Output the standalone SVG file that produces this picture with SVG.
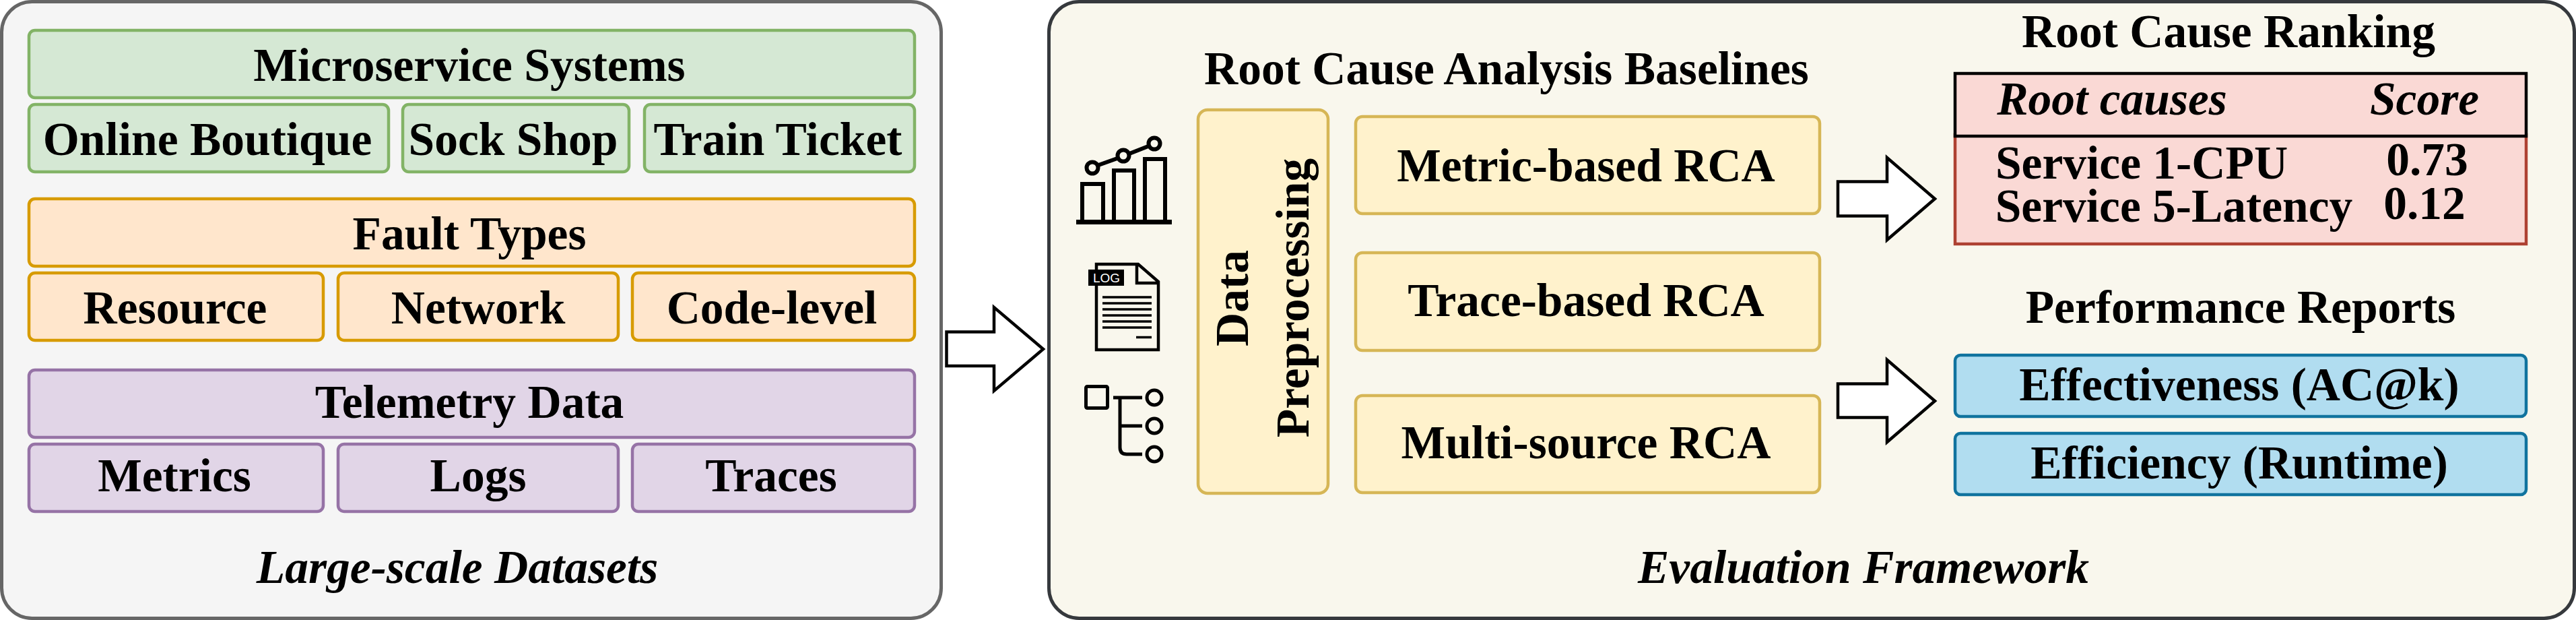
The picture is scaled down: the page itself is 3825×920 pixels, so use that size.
<svg xmlns="http://www.w3.org/2000/svg" width="3825" height="920" viewBox="0 0 3825 920">
<style>
text{font-family:"Liberation Serif","Times New Roman",serif;font-weight:700;font-size:69.5px;fill:#000;text-anchor:middle}
.i{font-style:italic}
rect{stroke-width:4.5}
.g rect{fill:#d5e8d4;stroke:#82b366}
.o rect{fill:#ffe6cc;stroke:#d79b00}
.p rect{fill:#e1d5e7;stroke:#9673a6}
.y rect{fill:#fff2cc;stroke:#d6b656}
.b rect{fill:#b1ddf0;stroke:#10739e}
.arrow{fill:#fff;stroke:#000;stroke-width:4.5;stroke-miterlimit:10}
.ic{fill:none;stroke:#000}
</style>
<rect width="3825" height="920" fill="#fff" style="stroke:none"/>
<g id="panel-datasets"><rect x="2.5" y="2.5" width="1395" height="915" rx="45" fill="#f5f5f5" stroke="#666666" style="stroke-width:5"/><text class="i" x="679" y="865">Large-scale Datasets</text></g>
<g id="panel-framework"><rect x="1557.5" y="2.5" width="2265" height="915" rx="45" fill="#f9f7ed" stroke="#36393d" style="stroke-width:5"/><text class="i" x="2767" y="865">Evaluation Framework</text></g>

<g id="microservice-systems" class="g"><rect x="43" y="45" width="1315" height="100" rx="9"/><text x="697" y="120">Microservice Systems</text></g>
<g id="online-boutique" class="g"><rect x="43" y="155" width="534" height="100" rx="9"/><text x="308" y="230">Online Boutique</text></g>
<g id="sock-shop" class="g"><rect x="598" y="155" width="336" height="100" rx="9"/><text x="762" y="230">Sock Shop</text></g>
<g id="train-ticket" class="g"><rect x="957" y="155" width="401" height="100" rx="9"/><text x="1155" y="230">Train Ticket</text></g>

<g id="fault-types" class="o"><rect x="43" y="295" width="1315" height="100" rx="9"/><text x="697" y="370">Fault Types</text></g>
<g id="resource" class="o"><rect x="43" y="405" width="437" height="100" rx="9"/><text x="260" y="480">Resource</text></g>
<g id="network" class="o"><rect x="502" y="405" width="416" height="100" rx="9"/><text x="710" y="480">Network</text></g>
<g id="code-level" class="o"><rect x="939" y="405" width="419" height="100" rx="9"/><text x="1146" y="480">Code-level</text></g>

<g id="telemetry-data" class="p"><rect x="43" y="549" width="1315" height="100" rx="9"/><text x="697" y="620">Telemetry Data</text></g>
<g id="metrics" class="p"><rect x="43" y="659" width="437" height="100" rx="9"/><text x="259" y="729">Metrics</text></g>
<g id="logs" class="p"><rect x="502" y="659" width="416" height="100" rx="9"/><text x="710" y="729">Logs</text></g>
<g id="traces" class="p"><rect x="939" y="659" width="419" height="100" rx="9"/><text x="1145" y="729">Traces</text></g>

<g id="icon-metrics" class="ic" stroke-width="6">
<path d="M1598 329.5H1740" stroke-width="7"/>
<path d="M1607 327V273H1638V327M1654 327V253H1684V327M1700 327V236H1730V327"/>
<path d="M1631 245L1659 235M1677 228L1705 217"/>
<circle cx="1622" cy="249" r="8.5"/><circle cx="1668" cy="231" r="8.5"/><circle cx="1714" cy="213" r="8.5"/>
</g>
<g id="icon-logs">
<path class="ic" stroke-width="4.5" d="M1628 400V392H1690L1720 418V519H1628V424M1688 392V420H1720"/>
<rect x="1616" y="400" width="53" height="24" fill="#000" style="stroke:none"/>
<text x="1643" y="419" style="font-family:'Liberation Sans',Arial,sans-serif;font-weight:400;font-size:19px;fill:#fff">LOG</text>
<path class="ic" stroke-width="3.5" d="M1637 441H1710M1637 450H1710M1637 459H1710M1637 468H1710M1637 477H1710M1637 486H1710M1687 500.5H1710"/>
</g>
<g id="icon-traces" class="ic" stroke-width="5">
<rect x="1612.5" y="573.5" width="32" height="32" rx="2" fill="none" stroke="#000" style="stroke-width:5"/>
<path d="M1653 590H1696M1663 590V664Q1663 674 1673 674H1696M1663 632H1696"/>
<circle cx="1714" cy="590" r="11"/><circle cx="1714" cy="632" r="11"/><circle cx="1714" cy="674" r="11"/>
</g>

<g id="data-preprocessing" class="y"><rect x="1779" y="163" width="193" height="569" rx="14"/>
<text transform="translate(1853 442.5) rotate(-90)">Data</text>
<text transform="translate(1943 442) rotate(-90)">Preprocessing</text></g>

<text id="baselines-title" x="2237" y="125">Root Cause Analysis Baselines</text>
<g id="metric-rca" class="y"><rect x="2013" y="173" width="689" height="144" rx="10"/><text x="2355" y="269">Metric-based RCA</text></g>
<g id="trace-rca" class="y"><rect x="2013" y="375" width="689" height="145" rx="10"/><text x="2355" y="469">Trace-based RCA</text></g>
<g id="multi-rca" class="y"><rect x="2013" y="587" width="689" height="144" rx="10"/><text x="2355" y="680">Multi-source RCA</text></g>

<g id="root-cause-ranking">
<text x="3309" y="70">Root Cause Ranking</text>
<rect x="2903" y="200" width="848" height="162" fill="#fad9d5" stroke="#ae4132"/>
<rect x="2903" y="109" width="848" height="93" fill="#fad9d5" stroke="#000"/>
<text class="i" x="3136" y="170">Root causes</text>
<text class="i" x="3600" y="170">Score</text>
<text x="3180" y="265">Service 1-CPU</text>
<text x="3228" y="329">Service 5-Latency</text>
<text x="3604" y="260">0.73</text>
<text x="3600" y="325">0.12</text>
</g>
<text id="reports-title" x="3327" y="479">Performance Reports</text>
<g id="effectiveness" class="b"><rect x="2903" y="527" width="848" height="91" rx="8"/><text x="3325" y="594">Effectiveness (AC@k)</text></g>
<g id="efficiency" class="b"><rect x="2903" y="643" width="848" height="91" rx="8"/><text x="3325" y="710">Efficiency (Runtime)</text></g>

<g id="connectors">
<path class="arrow" d="M1405.5 492.5H1476V456L1549 518L1476 580V543H1405.5Z"/>
<path class="arrow" d="M2729 269.5H2802V234L2873 295L2802 356V320.5H2729Z"/>
<path class="arrow" d="M2729 569.5H2802V534L2873 595L2802 656V619.5H2729Z"/>
</g>
</svg>
